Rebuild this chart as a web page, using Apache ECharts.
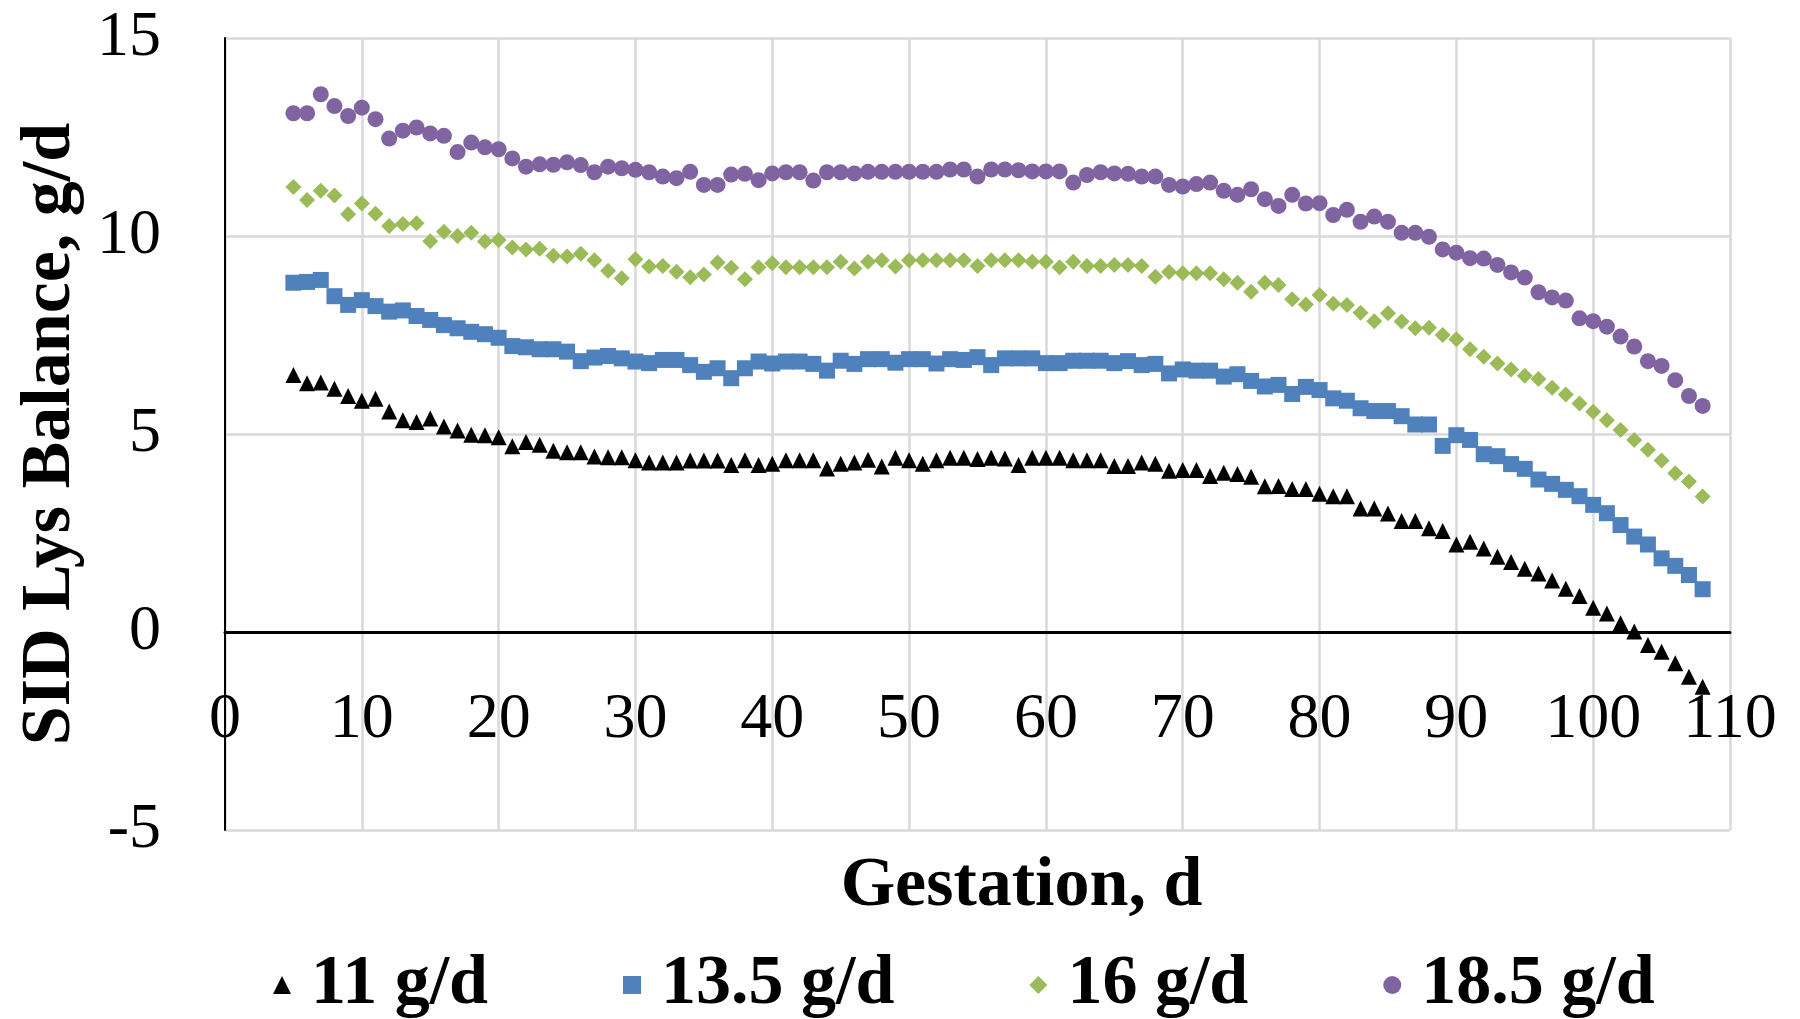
<!DOCTYPE html>
<html>
<head>
<meta charset="utf-8">
<title>SID Lys Balance during gestation</title>
<script src="https://cdn.jsdelivr.net/npm/echarts@6/dist/echarts.min.js"></script>
<style>
  html, body { margin: 0; padding: 0; background: #fff; }
  #chart { width: 1800px; height: 1019px; }
</style>
</head>
<body>
<div id="chart"></div>
<script>
// Day of gestation for each observation
const days = [
  5, 6, 7, 8, 9, 10, 11, 12, 13, 14,
  15, 16, 17, 18, 19, 20, 21, 22, 23, 24,
  25, 26, 27, 28, 29, 30, 31, 32, 33, 34,
  35, 36, 37, 38, 39, 40, 41, 42, 43, 44,
  45, 46, 47, 48, 49, 50, 51, 52, 53, 54,
  55, 56, 57, 58, 59, 60, 61, 62, 63, 64,
  65, 66, 67, 68, 69, 70, 71, 72, 73, 74,
  75, 76, 77, 78, 79, 80, 81, 82, 83, 84,
  85, 86, 87, 88, 89, 90, 91, 92, 93, 94,
  95, 96, 97, 98, 99, 100, 101, 102, 103, 104,
  105, 106, 107, 108
];

// SID Lys balance (g/d) at each lysine intake level
const lys11 = [
  6.49, 6.28, 6.30, 6.14, 5.96, 5.84, 5.89, 5.57, 5.35, 5.30,
  5.39, 5.19, 5.09, 4.98, 4.97, 4.92, 4.69, 4.80, 4.73, 4.58,
  4.54, 4.54, 4.43, 4.41, 4.41, 4.34, 4.28, 4.28, 4.28, 4.33,
  4.33, 4.33, 4.22, 4.34, 4.22, 4.25, 4.34, 4.34, 4.34, 4.13,
  4.25, 4.28, 4.35, 4.18, 4.40, 4.34, 4.25, 4.34, 4.40, 4.40,
  4.37, 4.40, 4.38, 4.22, 4.40, 4.40, 4.40, 4.34, 4.34, 4.34,
  4.19, 4.19, 4.28, 4.25, 4.07, 4.09, 4.09, 3.94, 4.02, 3.99,
  3.92, 3.68, 3.69, 3.61, 3.61, 3.49, 3.43, 3.43, 3.12, 3.12,
  2.99, 2.80, 2.80, 2.62, 2.55, 2.21, 2.28, 2.11, 1.90, 1.77,
  1.60, 1.48, 1.30, 1.09, 0.91, 0.61, 0.47, 0.22, 0.01, -0.33,
  -0.50, -0.79, -1.13, -1.38
];
const lys13_5 = [
  8.82, 8.84, 8.89, 8.48, 8.26, 8.38, 8.23, 8.09, 8.12, 7.98,
  7.88, 7.75, 7.67, 7.58, 7.52, 7.43, 7.22, 7.19, 7.14, 7.14,
  7.08, 6.84, 6.93, 6.97, 6.91, 6.83, 6.79, 6.87, 6.87, 6.74,
  6.57, 6.66, 6.41, 6.66, 6.83, 6.78, 6.83, 6.83, 6.77, 6.60,
  6.85, 6.77, 6.89, 6.89, 6.80, 6.89, 6.89, 6.78, 6.89, 6.87,
  6.94, 6.74, 6.91, 6.91, 6.91, 6.79, 6.79, 6.85, 6.85, 6.85,
  6.79, 6.84, 6.74, 6.77, 6.53, 6.63, 6.60, 6.60, 6.45, 6.51,
  6.34, 6.20, 6.24, 6.01, 6.19, 6.11, 5.90, 5.84, 5.65, 5.58,
  5.58, 5.45, 5.24, 5.24, 4.70, 4.97, 4.85, 4.49, 4.44, 4.24,
  4.12, 3.85, 3.74, 3.59, 3.43, 3.21, 3.00, 2.70, 2.41, 2.21,
  1.86, 1.67, 1.44, 1.08
];
const lys16 = [
  11.24, 10.91, 11.14, 11.02, 10.55, 10.82, 10.56, 10.25, 10.30, 10.32,
  9.87, 10.11, 10.00, 10.08, 9.86, 9.90, 9.71, 9.66, 9.68, 9.50,
  9.48, 9.55, 9.39, 9.12, 8.93, 9.41, 9.23, 9.24, 9.10, 8.96,
  9.03, 9.33, 9.20, 8.91, 9.21, 9.31, 9.21, 9.21, 9.21, 9.21,
  9.35, 9.18, 9.35, 9.39, 9.23, 9.39, 9.39, 9.39, 9.39, 9.39,
  9.24, 9.39, 9.39, 9.39, 9.35, 9.35, 9.21, 9.35, 9.24, 9.24,
  9.27, 9.27, 9.24, 8.97, 9.09, 9.06, 9.06, 9.06, 8.91, 8.82,
  8.59, 8.82, 8.76, 8.40, 8.27, 8.51, 8.29, 8.26, 8.06, 7.85,
  8.05, 7.84, 7.67, 7.68, 7.50, 7.39, 7.14, 6.95, 6.78, 6.63,
  6.47, 6.39, 6.17, 6.00, 5.77, 5.56, 5.35, 5.10, 4.85, 4.60,
  4.33, 4.01, 3.80, 3.42
];
const lys18_5 = [
  13.10, 13.10, 13.58, 13.28, 13.03, 13.24, 12.95, 12.46, 12.66, 12.74,
  12.59, 12.53, 12.12, 12.36, 12.24, 12.19, 11.96, 11.75, 11.81, 11.80,
  11.86, 11.79, 11.61, 11.75, 11.71, 11.67, 11.61, 11.50, 11.46, 11.62,
  11.29, 11.29, 11.55, 11.57, 11.41, 11.58, 11.61, 11.61, 11.40, 11.61,
  11.61, 11.58, 11.62, 11.62, 11.62, 11.62, 11.62, 11.62, 11.68, 11.68,
  11.50, 11.68, 11.68, 11.66, 11.63, 11.63, 11.63, 11.35, 11.54, 11.61,
  11.58, 11.57, 11.50, 11.50, 11.29, 11.25, 11.31, 11.35, 11.14, 11.04,
  11.18, 10.93, 10.76, 11.04, 10.82, 10.83, 10.53, 10.66, 10.36, 10.49,
  10.36, 10.08, 10.08, 9.98, 9.66, 9.58, 9.44, 9.43, 9.27, 9.08,
  8.95, 8.58, 8.45, 8.37, 7.92, 7.85, 7.71, 7.46, 7.21, 6.84,
  6.72, 6.36, 5.96, 5.71
];

const seriesNames = ['11 g/d', '13.5 g/d', '16 g/d', '18.5 g/d'];
const seriesValues = [lys11, lys13_5, lys16, lys18_5];
const seriesSymbols = ['triangle', 'rect', 'diamond', 'circle'];
const seriesColors = ['#000000', '#4F81BD', '#9BBB59', '#8064A2'];

// y range of the value axis; the day axis sits on y = 0
const Y_MIN = -5, Y_MAX = 15;
const GRID_TOP = 38, GRID_BOTTOM = 189, CHART_H = 1019;

const FONT = '"Liberation Serif", "Times New Roman", serif';

function pairs(values) {
  return days.map((d, i) => [d, values[i]]);
}

// Distance (px) from the bottom of the plot up to the y = 0 line
const plotH = CHART_H - GRID_TOP - GRID_BOTTOM;
const zeroOffset = plotH * (0 - Y_MIN) / (Y_MAX - Y_MIN);

const chart = echarts.init(document.getElementById('chart'), null, { renderer: 'canvas' });

chart.setOption({
  animation: false,
  backgroundColor: '#ffffff',
  grid: {
    left: 225, right: 70, top: GRID_TOP, bottom: GRID_BOTTOM,
    containLabel: false, outerBoundsMode: 'none'
  },
  xAxis: {
    type: 'value',
    min: 0,
    max: 110,
    interval: 10,
    offset: -zeroOffset,
    name: 'Gestation, d',
    nameLocation: 'middle',
    nameGap: 220,
    nameTextStyle: {
      fontFamily: FONT, fontSize: 70, fontWeight: 'bold', color: '#000',
      padding: [0, 0, 0, 88]
    },
    axisLine: { show: true, onZero: false, lineStyle: { color: '#000', width: 3 } },
    axisTick: { show: false },
    axisLabel: { fontFamily: FONT, fontSize: 64, color: '#000', margin: 56 },
    splitLine: { show: true, lineStyle: { color: '#D9D9D9', width: 2.5 } }
  },
  yAxis: {
    type: 'value',
    min: Y_MIN,
    max: Y_MAX,
    interval: 5,
    name: 'SID Lys Balance, g/d',
    nameLocation: 'middle',
    nameGap: 138,
    nameTextStyle: { fontFamily: FONT, fontSize: 70, fontWeight: 'bold', color: '#000' },
    axisLine: { show: true, onZero: false, lineStyle: { color: '#000', width: 2 } },
    axisTick: { show: false },
    axisLabel: { fontFamily: FONT, fontSize: 64, color: '#000', margin: 64 },
    splitLine: { show: true, lineStyle: { color: '#D9D9D9', width: 2.5 } }
  },
  legend: {
    left: 268,
    top: 945,
    orient: 'horizontal',
    itemWidth: 18,
    itemHeight: 18,
    itemGap: 135,
    selectedMode: false,
    textStyle: {
      fontFamily: FONT, fontSize: 70, fontWeight: 'bold', color: '#000',
      padding: [0, 0, 0, 15]
    },
    data: seriesNames
  },
  series: seriesNames.map((name, i) => ({
    name: name,
    type: 'scatter',
    symbol: seriesSymbols[i],
    symbolSize: 16,
    itemStyle: { color: seriesColors[i], opacity: 1 },
    data: pairs(seriesValues[i])
  }))
});
</script>
</body>
</html>
